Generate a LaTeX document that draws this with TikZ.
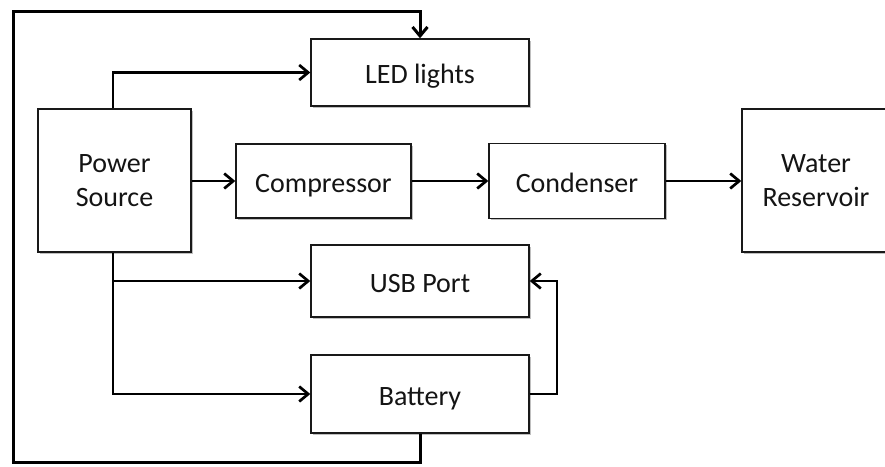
\documentclass[tikz,border=0pt]{standalone}
\usepackage{fontspec}
\setmainfont{Carlito}
\usetikzlibrary{arrows.meta,shadows}
\begin{document}
\begin{tikzpicture}[x=1pt,y=-1pt,
  block/.style={draw=black!90, line width=1.4pt, fill=white, inner sep=0pt, align=center,
    font=\fontsize{28}{34}\selectfont, text=black!92,
    drop shadow={shadow xshift=1.5pt, shadow yshift=-1.5pt, opacity=0.25, fill=black}},
  oneline/.style={text height=23pt, text depth=1pt},
  conn/.style={line width=2.7pt, line join=miter},
  arr/.style={conn, -{Straight Barb[length=9pt,width=15pt]}}]
\useasboundingbox (0,0) rectangle (885,466);
\clip (0,0) rectangle (885,466);
\node[block, minimum width=153pt, minimum height=143pt] (pwr) at (114.5,180.5) {Power\\Source};
\node[block, oneline, minimum width=218pt, minimum height=67pt] (led) at (420,72.5) {LED lights};
\node[block, oneline, minimum width=175pt, minimum height=74pt] (comp) at (323.5,181) {Compressor};
\node[block, oneline, minimum width=176pt, minimum height=75pt] (cond) at (577,181) {Condenser};
\node[block, minimum width=148pt, minimum height=143pt] (water) at (816,180.5) {Water\\Reservoir};
\node[block, oneline, minimum width=218pt, minimum height=72pt] (usb) at (420,281) {USB Port};
\node[block, oneline, minimum width=218pt, minimum height=78pt] (bat) at (420,394) {Battery};
% connectors
\draw[arr] (pwr.north -| 113,0) |- (led.west);
\draw[arr] (pwr.east |- comp.west) -- (comp.west);
\draw[arr] (comp.east) -- (cond.west);
\draw[arr] (cond.east) -- (water.west |- cond.east);
\coordinate (branch) at (113,281);
\draw[arr] (pwr.south -| 113,0) |- (bat.west);
\draw[arr] (branch) -- (usb.west);
\coordinate (rt) at (557,394);
\draw[arr] (bat.east) -- (rt) |- (usb.east);
\coordinate (bl) at (13,462);
\coordinate (tl) at (13,11);
\draw[arr, line width=3pt] (bat.south) -- (bat.south |- bl) -- (bl) -- (tl) -| (led.north);
\end{tikzpicture}
\end{document}
